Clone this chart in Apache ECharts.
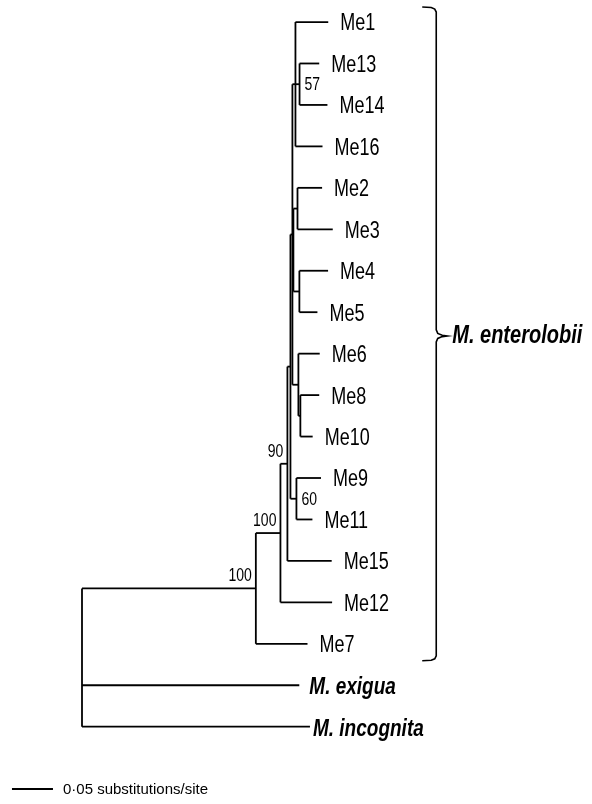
<!DOCTYPE html>
<html>
<head>
<meta charset="utf-8">
<script src="https://cdn.jsdelivr.net/npm/echarts@6/dist/echarts.min.js"></script>
<style>
  html, body { margin: 0; background: #fff; }
  #chart { width: 592px; height: 804px; }
</style>
</head>
<body>
<div id="chart"></div>
<script>
  // tips, top to bottom, with the node they hang from and their branch length (subst./site)
  const tipNames = ['Me1', 'Me13', 'Me14', 'Me16', 'Me2', 'Me3', 'Me4', 'Me5', 'Me6', 'Me8', 'Me10',
    'Me9', 'Me11', 'Me15', 'Me12', 'Me7', 'M. exigua', 'M. incognita']
  const tipParents = ['t1', 'n57', 'n57', 't1', 't2a', 't2a', 't2b', 't2b', 't3', 't3a', 't3a',
    'n60', 'n60', 'n90', 'n100a', 'n100b', 'root', 'root']
  const tipLengths = [0.040, 0.024, 0.034, 0.033, 0.030, 0.043, 0.035, 0.022, 0.026, 0.023, 0.015,
    0.030, 0.0195, 0.054, 0.063, 0.063, 0.265, 0.278]

  // internal nodes (parents listed before children)
  const nodeNames = ['root', 'n100b', 'n100a', 'n90', 'nA', 'n60', 'nT', 't1', 'n57', 't2', 't2a', 't2b', 't3', 't3a']
  const nodeParents = [null, 'root', 'n100b', 'n100a', 'n90', 'nA', 'nA', 'nT', 't1', 'nT', 't2', 't2', 'nT', 't3']
  const nodeLengths = [0, 0.212, 0.030, 0.0085, 0.0037, 0.0073, 0.0024, 0.0037, 0.005, 0.0012, 0.005, 0.0073, 0.0073, 0.0024]
  const nodeSupport = ['', '100', '100', '90', '', '60', '', '', '57', '', '', '', '', '']

  const scaleBarLength = 0.05
  const scaleBarLabel = '0·05 substitutions/site'
  const cladeLabel = 'M. enterolobii'
  const cladeFirst = 'Me1'
  const cladeLast = 'Me7'

  const FONT = '"Liberation Sans", Arial, sans-serif'

  // --- layout of the tree ---
  const depth = {}
  const yPos = {}
  const children = {}
  nodeNames.forEach((n) => (children[n] = []))
  nodeNames.forEach((n, i) => {
    const p = nodeParents[i]
    depth[n] = p ? depth[p] + nodeLengths[i] : 0
    if (p) children[p].push(n)
  })
  tipNames.forEach((t, i) => {
    depth[t] = depth[tipParents[i]] + tipLengths[i]
    yPos[t] = i
    children[tipParents[i]].push(t)
  })
  const nodeY = (n) => {
    if (yPos[n] !== undefined) return yPos[n]
    const ys = children[n].map(nodeY)
    yPos[n] = (Math.min(...ys) + Math.max(...ys)) / 2
    return yPos[n]
  }
  nodeY('root')

  const segments = []
  nodeNames.forEach((n, i) => {
    const ys = children[n].map((c) => yPos[c])
    segments.push([depth[n], Math.min(...ys), depth[n], Math.max(...ys)])
    if (nodeParents[i]) segments.push([depth[nodeParents[i]], yPos[n], depth[n], yPos[n]])
  })
  tipNames.forEach((t, i) => {
    segments.push([depth[tipParents[i]], yPos[t], depth[t], yPos[t]])
  })

  const tipData = tipNames.map((t) => [depth[t], yPos[t]])
  const supportIdx = nodeNames.map((n, i) => i).filter((i) => nodeSupport[i])
  const supportData = supportIdx.map((i) => [depth[nodeNames[i]], yPos[nodeNames[i]]])

  const chart = echarts.init(document.getElementById('chart'))

  const option = {
    backgroundColor: '#fff',
    animation: false,
    grid: { left: 0, top: 1.3, width: 574, height: 787.6 },
    xAxis: { type: 'value', min: -0.1, max: 0.6, show: false },
    yAxis: { type: 'value', min: -0.5, max: 18.5, inverse: true, show: false },
    series: [
      {
        type: 'custom',
        name: 'branches',
        clip: false,
        silent: true,
        data: segments,
        encode: { x: [0, 2], y: [1, 3] },
        renderItem: (params, api) => {
          const a = api.coord([api.value(0), api.value(1)])
          const b = api.coord([api.value(2), api.value(3)])
          return {
            type: 'line',
            shape: { x1: a[0], y1: a[1], x2: b[0], y2: b[1] },
            style: { stroke: '#000', lineWidth: 1.8 }
          }
        }
      },
      {
        type: 'custom',
        name: 'tips',
        clip: false,
        silent: true,
        data: tipData,
        encode: { x: 0, y: 1 },
        renderItem: (params, api) => {
          const p = api.coord([api.value(0), api.value(1)])
          const name = tipNames[params.dataIndex]
          const species = name.startsWith('M.')
          const gap = name === 'M. incognita' ? 3 : species ? 10 : 12
          return {
            type: 'text',
            x: p[0] + gap,
            y: p[1] + 2,
            scaleY: 1.3,
            style: {
              text: name,
              fontFamily: FONT,
              fontSize: species ? 19 : 18,
              fontWeight: species ? 'bold' : 'normal',
              fontStyle: species ? 'italic' : 'normal',
              fill: '#000',
              align: 'left',
              verticalAlign: 'middle'
            }
          }
        }
      },
      {
        type: 'custom',
        name: 'support',
        clip: false,
        silent: true,
        data: supportData,
        encode: { x: 0, y: 1 },
        renderItem: (params, api) => {
          const p = api.coord([api.value(0), api.value(1)])
          const i = supportIdx[params.dataIndex]
          const n = nodeNames[i]
          const right = n === 'n57' || n === 'n60'
          return {
            type: 'text',
            x: right ? p[0] + 5 : p[0] - 4,
            y: right ? p[1] + 1 : p[1] - 3,
            scaleY: 1.3,
            style: {
              text: nodeSupport[i],
              fontFamily: FONT,
              fontSize: 14,
              fill: '#000',
              align: right ? 'left' : 'right',
              verticalAlign: right ? 'middle' : 'bottom'
            }
          }
        }
      },
      {
        type: 'custom',
        name: 'clade',
        clip: false,
        silent: true,
        data: [[0.432, yPos[cladeFirst], yPos[cladeLast]]],
        renderItem: (params, api) => {
          const top = api.coord([api.value(0), api.value(1)])
          const bot = api.coord([api.value(0), api.value(2)])
          const bx = top[0]
          const t = top[1] - 15
          const b = bot[1] + 17
          const m = (t + b) / 2 + 2
          const pts = [
            [bx - 14, t], [bx - 5, t + 0.5], [bx - 1.5, t + 2], [bx, t + 5],
            [bx, m - 6], [bx + 1.5, m - 2.5], [bx + 6, m - 0.7], [bx + 11, m],
            [bx + 6, m + 0.7], [bx + 1.5, m + 2.5], [bx, m + 6],
            [bx, b - 5], [bx - 1.5, b - 2], [bx - 5, b - 0.5], [bx - 14, b]
          ]
          return {
            type: 'group',
            children: [
              {
                type: 'polyline',
                shape: { points: pts },
                style: { stroke: '#000', lineWidth: 1.6, fill: null }
              },
              {
                type: 'text',
                x: bx + 16,
                y: m,
                scaleY: 1.25,
                style: {
                  text: cladeLabel,
                  fontFamily: FONT,
                  fontSize: 20,
                  fontWeight: 'bold',
                  fontStyle: 'italic',
                  fill: '#000',
                  align: 'left',
                  verticalAlign: 'middle'
                }
              }
            ]
          }
        }
      },
      {
        type: 'custom',
        name: 'scale',
        clip: false,
        silent: true,
        data: [[-0.0854, 18.5]],
        renderItem: (params, api) => {
          const a = api.coord([api.value(0), api.value(1)])
          const b = api.coord([api.value(0) + scaleBarLength, api.value(1)])
          return {
            type: 'group',
            children: [
              {
                type: 'line',
                shape: { x1: a[0], y1: a[1], x2: b[0], y2: b[1] },
                style: { stroke: '#000', lineWidth: 2 }
              },
              {
                type: 'text',
                x: b[0] + 10,
                y: a[1] + 1,
                style: {
                  text: scaleBarLabel,
                  fontFamily: FONT,
                  fontSize: 15,
                  fill: '#000',
                  align: 'left',
                  verticalAlign: 'middle'
                }
              }
            ]
          }
        }
      }
    ]
  }

  chart.setOption(option)
</script>
</body>
</html>
